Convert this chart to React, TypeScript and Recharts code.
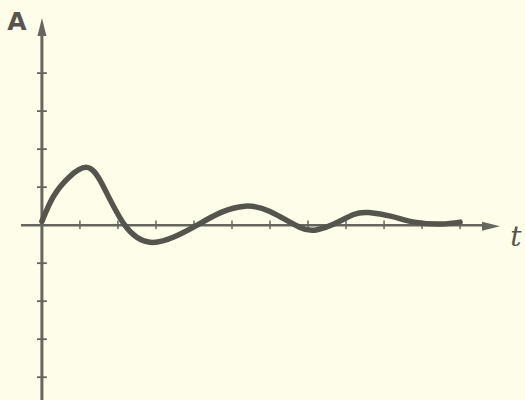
import React from "react";
import { LineChart, Line, XAxis, YAxis, ReferenceLine, ReferenceDot } from "recharts";

const tValues = [0, 0.3, 0.7, 1.18, 1.6, 2.18, 2.84, 3.5, 4.08, 4.7, 5.34, 6.0, 6.79, 7.24, 7.7, 8.2, 8.6, 9.2, 9.8, 10.5, 11.0];
const aValues = [0.1, 0.75, 1.25, 1.52, 1.05, 0.0, -0.45, -0.3, 0.0, 0.33, 0.5, 0.36, -0.06, -0.12, 0.04, 0.28, 0.33, 0.23, 0.08, 0.03, 0.08];
const xTicks = [1, 2, 3, 4, 5, 6, 7, 8, 9, 10, 11];
const yTicks = [-4, -3, -2, -1, 1, 2, 3, 4];
const xAxisLabel = "t";
const yAxisLabel = "A";

const data = tValues.map((t, i) => ({ t, a: aValues[i] }));

const X_MIN = -0.55;
const X_MAX = 12.05;
const Y_MIN = -4.6;
const Y_MAX = 5.45;

const AXIS = "#66665e";
const CURVE = "#55554e";

const YArrow = (props: any) => {
  const { cx, cy } = props;
  return (
    <g>
      <polygon points={`${cx},${cy} ${cx - 4.5},${cy + 18} ${cx + 4.5},${cy + 18}`} fill={AXIS} />
      <text x={cx - 25} y={cy + 12} textAnchor="middle" fontFamily="DejaVu Sans, sans-serif" fontWeight="bold" fontSize={25} fill={CURVE}>
        {yAxisLabel}
      </text>
    </g>
  );
};

const XArrow = (props: any) => {
  const { cx, cy } = props;
  return (
    <g>
      <polygon points={`${cx},${cy + 1} ${cx - 18},${cy - 3.5} ${cx - 18},${cy + 5.5}`} fill={AXIS} />
      <text x={cx + 16} y={cy + 21} textAnchor="middle" fontFamily="DejaVu Serif, serif" fontStyle="italic" fontSize={28} fill={CURVE}>
        {xAxisLabel}
      </text>
    </g>
  );
};

export default function App() {
  return (
    <div style={{ position: "absolute", left: 0, top: 0, width: 525, height: 400, background: "#fdfde9" }}>
      <LineChart width={525} height={400} data={data} margin={{ top: 18, right: 25, bottom: 0, left: 21 }}>
        <XAxis dataKey="t" type="number" domain={[X_MIN, X_MAX]} hide allowDataOverflow />
        <YAxis type="number" domain={[Y_MIN, Y_MAX]} hide allowDataOverflow />
        <ReferenceLine segment={[{ x: X_MIN, y: 0 }, { x: 11.7, y: 0 }]} stroke={AXIS} strokeWidth={2.5} ifOverflow="visible" />
        <ReferenceLine segment={[{ x: 0, y: Y_MIN }, { x: 0, y: 5.1 }]} stroke={AXIS} strokeWidth={3} ifOverflow="visible" />
        {xTicks.map((v) => (
          <ReferenceLine key={"xt" + v} segment={[{ x: v, y: -0.1 }, { x: v, y: 0.12 }]} stroke={AXIS} strokeWidth={1.5} ifOverflow="visible" />
        ))}
        {yTicks.map((v) => (
          <ReferenceLine key={"yt" + v} segment={[{ x: -0.13, y: v }, { x: 0.13, y: v }]} stroke={AXIS} strokeWidth={1.8} ifOverflow="visible" />
        ))}
        <ReferenceDot x={0} y={Y_MAX} r={0} shape={YArrow} ifOverflow="visible" />
        <ReferenceDot x={X_MAX} y={0} r={0} shape={XArrow} ifOverflow="visible" />
        <Line dataKey="a" type="natural" stroke={CURVE} strokeWidth={5.5} dot={false} isAnimationActive={false} strokeLinecap="round" strokeLinejoin="round" />
      </LineChart>
    </div>
  );
}
